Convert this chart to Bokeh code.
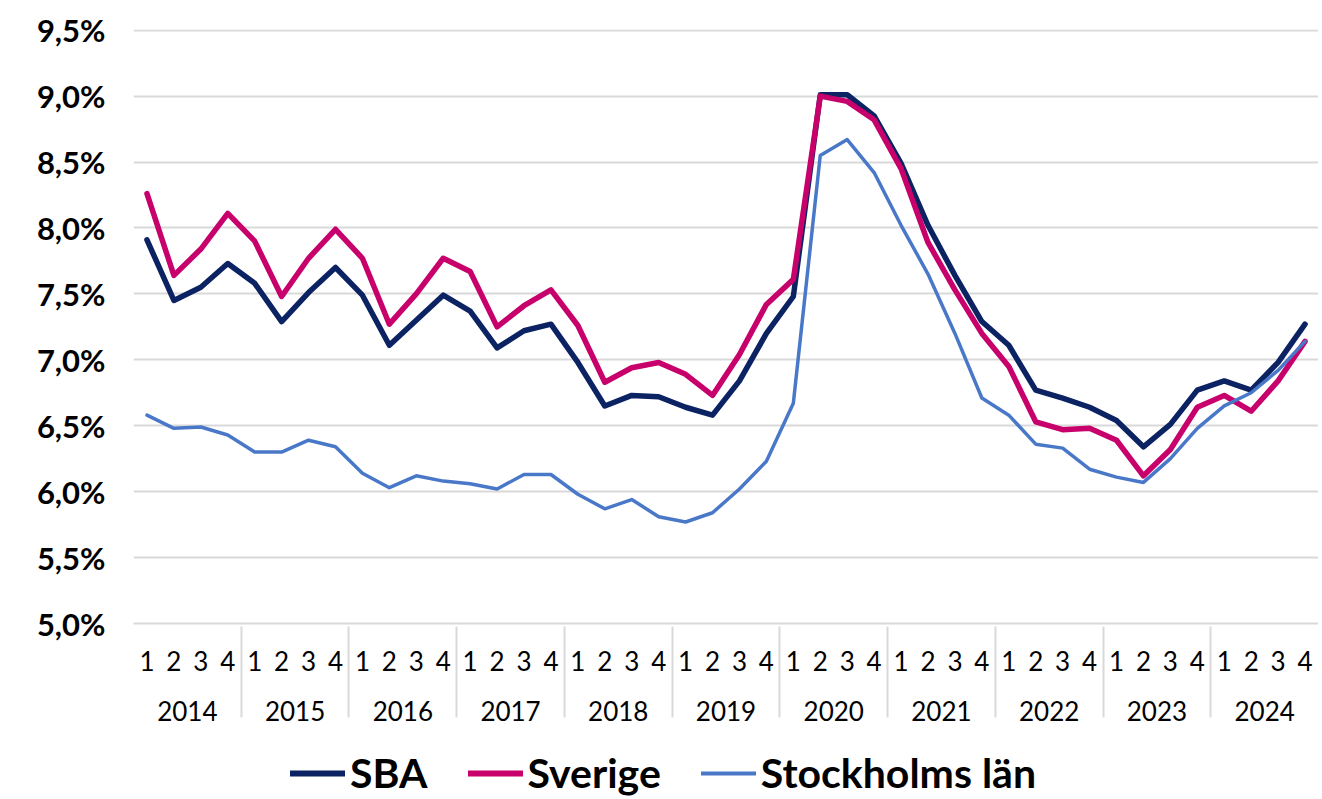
from bokeh.plotting import figure
from bokeh.layouts import column
from bokeh.models import FactorRange, Range1d, Legend, LegendItem, CustomJSTickFormatter, FixedTicker
from bokeh.embed import file_html
from bokeh.resources import INLINE

years = [str(y) for y in range(2014, 2025)]
quarters = ["1", "2", "3", "4"]

sba = [7.91, 7.45, 7.55, 7.73,
       7.58, 7.29, 7.51, 7.70,
       7.49, 7.11, 7.30, 7.49,
       7.37, 7.09, 7.22, 7.27,
       6.98, 6.65, 6.73, 6.72,
       6.64, 6.58, 6.84, 7.20,
       7.48, 9.01, 9.01, 8.85,
       8.49, 8.02, 7.64, 7.29,
       7.11, 6.77, 6.71, 6.64,
       6.54, 6.34, 6.51, 6.77,
       6.84, 6.77, 6.98, 7.27]

sverige = [8.26, 7.64, 7.84, 8.11,
           7.90, 7.48, 7.77, 7.99,
           7.77, 7.27, 7.50, 7.77,
           7.67, 7.25, 7.41, 7.53,
           7.26, 6.83, 6.94, 6.98,
           6.89, 6.73, 7.04, 7.42,
           7.61, 9.00, 8.96, 8.82,
           8.45, 7.89, 7.53, 7.20,
           6.95, 6.53, 6.47, 6.48,
           6.39, 6.12, 6.32, 6.64,
           6.73, 6.61, 6.84, 7.14]

stockholm = [6.58, 6.48, 6.49, 6.43,
             6.30, 6.30, 6.39, 6.34,
             6.14, 6.03, 6.12, 6.08,
             6.06, 6.02, 6.13, 6.13,
             5.98, 5.87, 5.94, 5.81,
             5.77, 5.84, 6.02, 6.23,
             6.67, 8.55, 8.67, 8.42,
             8.02, 7.65, 7.20, 6.71,
             6.58, 6.36, 6.33, 6.17,
             6.11, 6.07, 6.25, 6.48,
             6.65, 6.75, 6.92, 7.14]

y_ticks = [5.0, 5.5, 6.0, 6.5, 7.0, 7.5, 8.0, 8.5, 9.0, 9.5]

series_names = ["SBA", "Sverige", "Stockholms län"]
colors = ["#0B2263", "#C8006B", "#4A78C8"]
widths = [5.5, 5.5, 3.5]

factors = [(y, q) for y in years for q in quarters]

FONT = "Lato"
GRID = "#d9d9d9"

p = figure(
    x_range=FactorRange(*factors, factor_padding=0, group_padding=0, range_padding=0),
    y_range=Range1d(5.0, 9.505),
    width=1318, height=743,
    output_backend="svg", toolbar_location=None,
    min_border_left=133, min_border_right=0, min_border_top=29, min_border_bottom=120,
)
p.outline_line_color = None
p.background_fill_color = "white"
p.border_fill_color = "white"

for vals, c, w in zip([sba, sverige, stockholm], colors, widths):
    p.line(x=factors, y=vals, line_color=c, line_width=w, line_join="round", line_cap="round")

# y axis
p.yaxis.ticker = FixedTicker(ticks=y_ticks)
p.yaxis.formatter = CustomJSTickFormatter(code="return tick.toFixed(1).replace('.', ',') + '%';")
p.yaxis.axis_line_color = None
p.yaxis.major_tick_line_color = None
p.yaxis.minor_tick_line_color = None
p.yaxis.major_label_text_font = FONT
p.yaxis.major_label_text_font_style = "bold"
p.yaxis.major_label_text_font_size = "31px"
p.yaxis.major_label_text_color = "black"
p.yaxis.major_label_standoff = 22

p.ygrid.grid_line_color = GRID
p.ygrid.grid_line_width = 2
p.xgrid.grid_line_color = None

# x axis
xa = p.xaxis[0]
xa.axis_line_color = GRID
xa.axis_line_width = 2
xa.major_tick_line_color = None
xa.minor_tick_line_color = None
xa.major_tick_out = 0
xa.major_tick_in = 0
xa.major_label_text_font = FONT
xa.major_label_text_font_size = "26px"
xa.major_label_text_color = "black"
xa.major_label_standoff = 27
xa.group_text_font = FONT
xa.group_text_font_size = "26px"
xa.group_text_color = "black"
xa.group_text_font_style = "normal"
xa.separator_line_color = GRID
xa.separator_line_width = 2

# legend strip below the chart
leg = figure(
    width=1318, height=54,
    x_range=Range1d(0, 1), y_range=Range1d(0, 1),
    x_axis_location=None, y_axis_location=None,
    output_backend="svg", toolbar_location=None,
    min_border_left=0, min_border_right=0, min_border_top=0, min_border_bottom=0,
)
leg.outline_line_color = None
leg.xgrid.visible = False
leg.ygrid.visible = False
leg_renderers = []
for c, w in zip(colors, widths):
    # placeholder lines outside the visible range, used only for legend swatches
    leg_renderers.append(leg.line(x=[-3, -2], y=[-3, -2], line_color=c, line_width=w + 0.5, line_cap="round"))

items = [LegendItem(label=n, renderers=[r]) for n, r in zip(series_names, leg_renderers)]
legend = Legend(items=items, orientation="horizontal", location=(157, 0))
legend.label_text_font = FONT
legend.label_text_font_style = "bold"
legend.label_text_font_size = "41px"
legend.label_text_color = "black"
legend.glyph_width = 55
legend.glyph_height = 20
legend.label_standoff = 5
legend.spacing = 40
legend.border_line_color = None
legend.background_fill_alpha = 0
legend.padding = 0
legend.margin = 0
leg.add_layout(legend, "center")

layout = column(p, leg, spacing=0)

open("out.html", "w").write(file_html(layout, INLINE))
